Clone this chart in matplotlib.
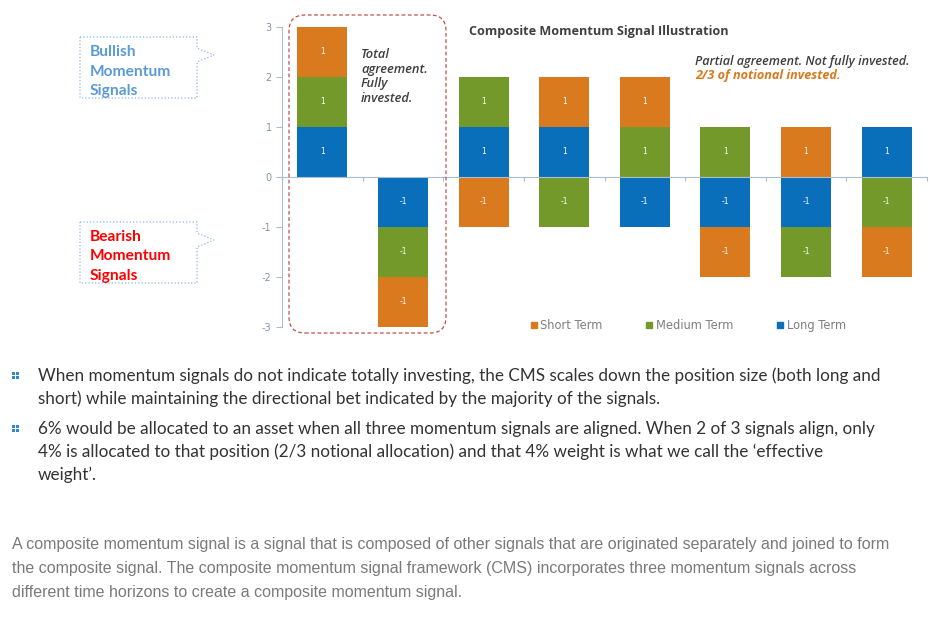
import numpy as np
import matplotlib.pyplot as plt
from matplotlib.patches import FancyBboxPatch, Polygon, Rectangle
from matplotlib.lines import Line2D

plt.rcParams["axes.unicode_minus"] = False

# signal values for each illustrative case (+1 bullish, -1 bearish)
cases = np.arange(8)
long_term = [1, -1, 1, 1, -1, -1, -1, 1]
medium_term = [1, -1, 1, -1, 1, 1, -1, -1]
short_term = [1, -1, -1, 1, 1, -1, 1, -1]
y_ticks = [-3, -2, -1, 0, 1, 2, 3]

bullet_lines = [
    ["When momentum signals do not indicate totally investing, the CMS scales down the position size (both long and",
     "short) while maintaining the directional bet indicated by the majority of the signals."],
    ["6% would be allocated to an asset when all three momentum signals are aligned. When 2 of 3 signals align, only",
     "4% is allocated to that position (2/3 notional allocation) and that 4% weight is what we call the \u2018effective",
     "weight\u2019."],
]
para_lines = [
    "A composite momentum signal is a signal that is composed of other signals that are originated separately and joined to form",
    "the composite signal. The composite momentum signal framework (CMS) incorporates three momentum signals across",
    "different time horizons to create a composite momentum signal.",
]

ORANGE = "#D97A1F"
GREEN = "#74992B"
BLUE = "#0A6FBB"
AXIS = "#A9BED2"

W, H = 937, 618
fig = plt.figure(figsize=(W / 100, H / 100), dpi=100)


def px(x, y):
    return x / 100, (H - y) / 100


def ptext(x, y, s, **kw):
    fig.text(*px(x, y), s, transform=fig.dpi_scale_trans, **kw)


ax = fig.add_axes([282 / W, 1 - 327 / H, (927 - 282) / W, 300 / H])

pos = np.zeros(len(cases))
neg = np.zeros(len(cases))
for vals, color in [(long_term, BLUE), (medium_term, GREEN), (short_term, ORANGE)]:
    vals = np.array(vals, dtype=float)
    bottom = np.where(vals >= 0, pos, neg)
    bars = ax.bar(cases, vals, 0.62, bottom=bottom, color=color, zorder=2)
    ax.bar_label(bars, label_type="center", color="white", fontsize=5.5)
    pos += np.clip(vals, 0, None)
    neg += np.clip(vals, None, 0)

ax.set_xlim(-0.5, 7.5)
ax.set_ylim(-3, 3)
ax.set_yticks(y_ticks)
ax.set_xticks(np.arange(-0.5, 8, 1))
ax.set_xticklabels([])
for s in ["top", "right"]:
    ax.spines[s].set_visible(False)
ax.spines["left"].set_color(AXIS)
ax.spines["bottom"].set_color(AXIS)
ax.spines["bottom"].set_position(("data", 0))
ax.spines["bottom"].set_zorder(3)
ax.tick_params(axis="y", colors=AXIS, labelcolor="#7E96AD", labelsize=7, length=4)
ax.tick_params(axis="x", colors=AXIS, length=3)
ax.patch.set_alpha(0)

handles = [Line2D([], [], marker="s", ls="", color=c, markersize=5)
           for c in (ORANGE, GREEN, BLUE)]
ax.legend(handles, ["Short Term", "Medium Term", "Long Term"], ncol=3,
          loc="center", bbox_to_anchor=((688 - 282) / 645, 0.005), frameon=False,
          fontsize=8.3, labelcolor="#7F7F7F", handlelength=0.6, handletextpad=0.25,
          columnspacing=3.8)

# dashed frame around the full-agreement cases
frame = FancyBboxPatch(px(289, 333), 1.57, 3.18, transform=fig.dpi_scale_trans,
                       boxstyle="round,pad=0,rounding_size=0.16", fill=False,
                       ec="#C0504D", ls=(0, (3, 2)), lw=0.9)
fig.patches.append(frame)

ptext(469, 31, "Composite Momentum Signal Illustration", fontsize=9.1,
      fontweight="bold", color="#404040", va="center", family="Open Sans")
for y, s in zip([55, 70, 84, 98], ["Total", "agreement.", "Fully", "invested."]):
    ptext(361, y, s, fontsize=9.3, style="italic", fontweight="semibold",
          color="#3F3F3F", va="center", family="Open Sans")
ptext(695, 61, "Partial agreement. Not fully invested.", fontsize=9.05,
      style="italic", fontweight="semibold", color="#3F3F3F", va="center",
      family="Open Sans")
ptext(695, 76, "2/3 of notional invested.", fontsize=9.05, style="italic",
      fontweight="bold", color=ORANGE, va="center", family="Open Sans")

# callouts
for top, bottom, words, color in [(37, 98, ["Bullish", "Momentum", "Signals"], "#5B9BD5"),
                                   (222, 283, ["Bearish", "Momentum", "Signals"], "#FF0000")]:
    pts = [px(80, top), px(197, top), px(197, top + 11), px(214, top + 18),
           px(197, top + 25), px(197, bottom), px(80, bottom)]
    fig.patches.append(Polygon(pts, closed=True, transform=fig.dpi_scale_trans,
                               fc="white", ec="#8DB4E2", ls=":", lw=0.9))
    for i, w in enumerate(words):
        ptext(90, top + 15 + i * 19.5, w, fontsize=11.2, fontweight="bold",
              color=color, va="center", family="Lato")

# bullets
y0 = [376, 429]
for yb, lines in zip(y0, bullet_lines):
    for dx in (0, 4):
        for dy in (0, 4):
            fig.patches.append(Rectangle(px(12 + dx, yb - 4 + dy + 3), 0.03, 0.03,
                                         transform=fig.dpi_scale_trans, lw=0,
                                         fc="#2F86D4", antialiased=False))
    for i, s in enumerate(lines):
        ptext(38, yb + i * 23, s, fontsize=12.35, color="#333333", va="center",
              family="Lato")

for i, s in enumerate(para_lines):
    ptext(12, 544 + i * 24.3, s, fontsize=11.55, color="#7A7A7A", va="center",
          family="Liberation Sans")

fig.savefig("out.png", dpi=100)
